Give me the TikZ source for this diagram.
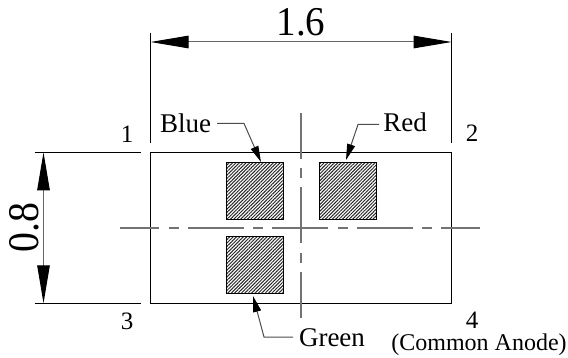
\documentclass[tikz,border=0pt]{standalone}
\usepackage{fontspec}
\setmainfont{Liberation Serif}
\usetikzlibrary{arrows.meta,patterns.meta}
\tikzset{
  ext/.style={black,line width=1pt},
  dimline/.style={draw=black!60,line width=1pt,{Triangle[length=38pt,width=12.5pt,black]}-{Triangle[length=38pt,width=12.5pt,black]}},
  leader/.style={draw=black!70,line width=1pt,-{Triangle[length=16pt,width=8pt,black]}},
  center line/.style={draw=black!55,line width=1.2pt,dash pattern=on 56pt off 9.5pt on 10pt off 9pt},
  pkg/.style={draw=black,line width=1pt,inner sep=0pt,minimum width=301pt,minimum height=151pt},
  chip/.style={draw=black,line width=1pt,inner sep=0pt,minimum width=56.5pt,minimum height=57pt,
    pattern={Lines[angle=45,distance=2.4pt,line width=1pt]},pattern color=black!85},
  lbl/.style={inner sep=0pt,anchor=base,font=\fontsize{27}{27}\selectfont},
  pin/.style={inner sep=0pt,anchor=base,font=\fontsize{25}{25}\selectfont},
  big/.style={inner sep=0pt,anchor=base,font=\fontsize{39}{39}\selectfont}
}
\begin{document}
\begin{tikzpicture}[x=1pt,y=-1pt]
\useasboundingbox (0,0) rectangle (568,358);
% extension line ends
\coordinate (dt1) at (150.5,33); \coordinate (db1) at (150.5,143);
\coordinate (dt2) at (451.7,33); \coordinate (db2) at (451.7,143);
\coordinate (hl1) at (34.5,152.3); \coordinate (hr1) at (141,152.3);
\coordinate (hl2) at (34.5,303.3); \coordinate (hr2) at (141,303.3);
\coordinate (wa) at (150.5,42); \coordinate (wb) at (451.7,42);
\coordinate (ha) at (43.5,152.3); \coordinate (hb) at (43.5,303.3);
% centre line ends
\coordinate (cl) at (120,228); \coordinate (cr) at (480,228);
\coordinate (ct) at (301,113); \coordinate (cb) at (301,318);
% shapes
\node[pkg] (package) at (301.1,227.8) {};
\node[chip] (blue) at (254.75,191) {};
\node[chip] (red) at (347.75,191) {};
\node[chip] (green) at (254.75,265) {};
% centre lines
\draw[center line,dash phase=17pt] (cl) -- (cr);
\draw[center line,dash phase=10pt] (ct) -- (cb);
% extension lines
\draw[ext] (dt1) -- (db1);
\draw[ext] (dt2) -- (db2);
\draw[ext] (hl1) -- (hr1);
\draw[ext] (hl2) -- (hr2);
% dimensions
\draw[dimline] (wa) -- (wb);
\draw[dimline] (ha) -- (hb);
\node[big] (w) at (301,35.5) {\scalebox{1}[1.05]{1.6}};
\node[big,rotate=90] (h) at (38,227.5) {\scalebox{1.02}[1.12]{0.8}};
% pin numbers
\node[pin] (p1) at (127,143) {1};
\node[pin] (p2) at (472,141.7) {2};
\node[pin] (p3) at (127,330) {3};
\node[pin] (p4) at (472,328) {4};
% labels
\node[lbl] (lblue) at (185.5,132.7) {Blue};
\node[lbl] (lred) at (405,131.7) {Red};
\node[lbl] (lgreen) at (332,346.7) {Green};
\node[inner sep=0pt,anchor=base,font=\fontsize{24}{24}\selectfont] (anode) at (479,350) {(Common Anode)};
% leaders
\coordinate (k1) at (244,123.5); \coordinate (k2) at (358,124.5); \coordinate (k3) at (264,337);
\coordinate (s1) at (217,123.5); \coordinate (s2) at (379,124.5); \coordinate (s3) at (293,337);
\coordinate (t1) at (261,162); \coordinate (t2) at (346,160); \coordinate (t3) at (253,296);
\draw[leader] (s1) -- (k1) -- (t1);
\draw[leader] (s2) -- (k2) -- (t2);
\draw[leader] (s3) -- (k3) -- (t3);
\end{tikzpicture}
\end{document}
